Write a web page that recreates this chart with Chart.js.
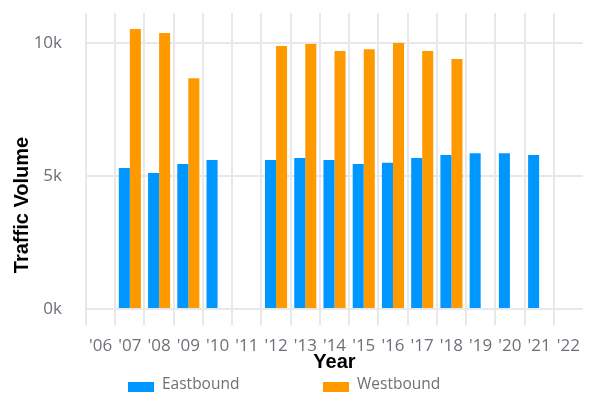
<!DOCTYPE html>
<html>
<head>
<meta charset="utf-8">
<script src="https://cdn.jsdelivr.net/npm/chart.js@4/dist/chart.umd.min.js"></script>
<style>
  html, body { margin: 0; padding: 0; background: #ffffff; }
  #wrap { width: 590px; height: 396px; }
</style>
</head>
<body>
<div id="wrap"><canvas id="c" width="590" height="396"></canvas></div>
<script>
// Annual traffic counts by direction
const years = ["'06", "'07", "'08", "'09", "'10", "'11", "'12", "'13", "'14", "'15", "'16", "'17", "'18", "'19", "'20", "'21", "'22"];
const eastbound = [null, 5300, 5110, 5450, 5600, null, 5600, 5680, 5600, 5450, 5500, 5680, 5790, 5860, 5860, 5790, null];
const westbound = [null, 10530, 10380, 8680, null, null, 9890, 9960, 9700, 9770, 10000, 9700, 9400, null, null, null, null];
const yTicks = [0, 5000, 10000];
const yTitle = 'Traffic Volume';

const tickColor = '#6d7078';
const gridColor = '#e8e8e8';

// Vertical axis title centred on the canvas, plus a widely spaced legend row
const chartText = {
  id: 'chartText',
  afterDraw(chart, args, opts) {
    const ctx = chart.ctx;
    ctx.save();
    ctx.font = opts.titleFont;
    ctx.fillStyle = '#000';
    ctx.textAlign = 'center';
    ctx.textBaseline = 'middle';
    ctx.translate(opts.titleX, chart.height / 2 + opts.titleShift);
    ctx.rotate(-Math.PI / 2);
    ctx.fillText(yTitle, 0, 0);
    ctx.restore();

    ctx.save();
    ctx.font = opts.font;
    ctx.textBaseline = 'middle';
    ctx.textAlign = 'left';
    chart.data.datasets.forEach((ds, i) => {
      const x = opts.startX + i * opts.step;
      ctx.fillStyle = ds.backgroundColor;
      ctx.fillRect(x, opts.boxY, opts.boxW, opts.boxH);
      ctx.fillStyle = opts.color;
      ctx.fillText(ds.label, x + opts.boxW + opts.gap, opts.textY);
    });
    ctx.restore();
  }
};

new Chart(document.getElementById('c'), {
  type: 'bar',
  data: {
    labels: years,
    datasets: [
      { label: 'Eastbound', data: eastbound, backgroundColor: '#0096ff' },
      { label: 'Westbound', data: westbound, backgroundColor: '#ff9900' }
    ]
  },
  plugins: [chartText],
  options: {
    responsive: false,
    animation: false,
    layout: { autoPadding: false, padding: { top: 13, right: 7, bottom: 0, left: 0 } },
    datasets: { bar: { categoryPercentage: 0.755, barPercentage: 1.0 } },
    plugins: {
      legend: { display: false },
      tooltip: { enabled: false },
      chartText: {
        titleFont: 'bold 20px "Liberation Sans"',
        titleX: 22.5, titleShift: 7,
        font: '15.5px "Open Sans"',
        color: '#6d7078',
        startX: 128, step: 195,
        boxW: 26, boxH: 10, boxY: 382, gap: 8, textY: 385
      }
    },
    scales: {
      x: {
        afterFit: s => { s.height = 87; s.paddingLeft = 0; s.paddingRight = 0; },
        grid: { offset: true, color: ctx => (ctx.type === 'tick' ? gridColor : 'rgba(0,0,0,0)'), lineWidth: 2, tickLength: 16 },
        border: { display: false },
        ticks: { color: tickColor, font: { family: 'Open Sans', size: 17 }, padding: 11, maxRotation: 0, autoSkip: false },
        title: { display: true, text: 'Year', color: '#000', font: { family: 'Liberation Sans', size: 20, weight: 'bold' }, padding: { top: 0, bottom: 22 } }
      },
      y: {
        min: 0,
        max: 11130,
        afterFit: s => { s.width = 86; s.paddingTop = 0; s.paddingBottom = 0; },
        afterBuildTicks: scale => { scale.ticks = yTicks.map(v => ({ value: v })); },
        grid: { color: gridColor, lineWidth: 2, drawTicks: false },
        border: { display: false },
        ticks: { color: tickColor, font: { family: 'Open Sans', size: 17 }, padding: 24, callback: v => (v / 1000) + 'k' }
      }
    }
  }
});
</script>
</body>
</html>
